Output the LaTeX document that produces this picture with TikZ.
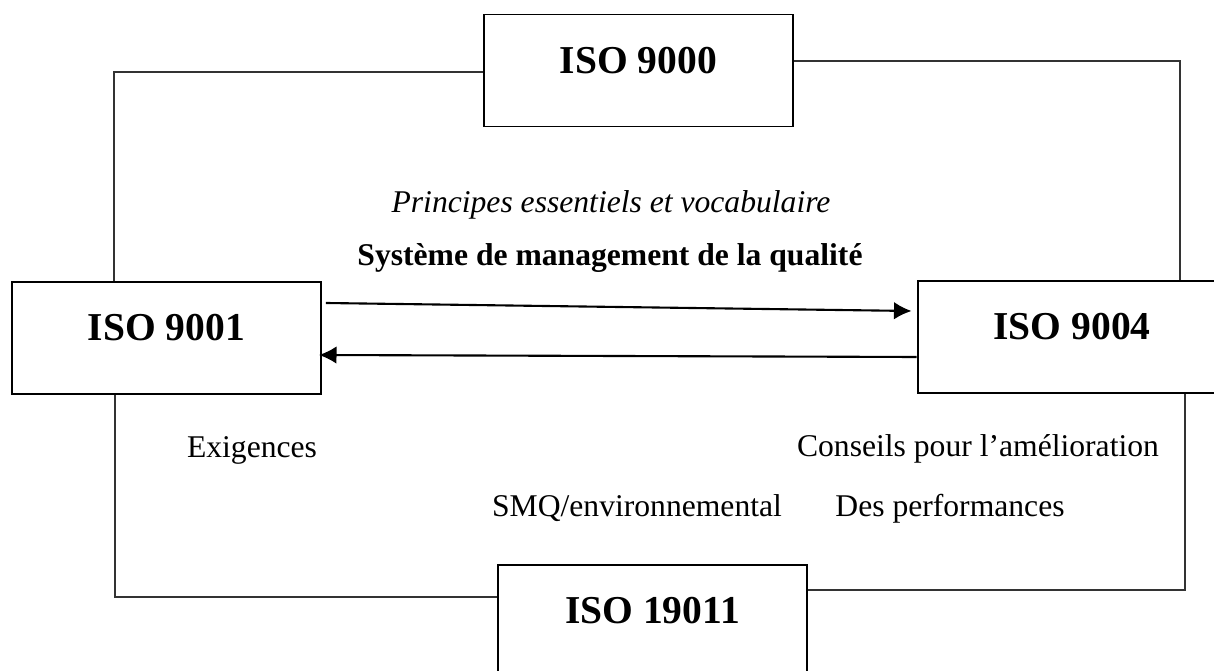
\documentclass[tikz,border=0pt]{standalone}
\usepackage{fontspec}
\setmainfont{Liberation Serif}
\usepackage{tikz}
\usetikzlibrary{calc}
\usetikzlibrary{arrows.meta}
\usetikzlibrary{positioning}
\tikzset{ISO/.style={draw=black,line width=1.1pt,minimum width=6.18cm,minimum height=2.24cm,inner sep=0pt,text height=12pt,text depth=9pt,font=\fontsize{22.5}{27}\selectfont\bfseries}}
\tikzset{link/.style={draw=black!80,line width=0.6pt}}
\tikzset{flow/.style={line width=1.2pt,-{Latex[length=10pt,width=10pt]}}}
\tikzset{note/.style={inner sep=0pt,font=\fontsize{18}{21}\selectfont}}

\begin{document}
\begin{tikzpicture}[x=0.02cm,y=-0.02cm]
\useasboundingbox (0,0) rectangle (1214,671);

\node[ISO] (iso9000) at (638.5, 70.5) {ISO 9000};
\node[ISO] (iso9001) at (166.5, 338) {ISO 9001};
\node[ISO] (iso9004) at (1072, 337) {ISO 9004};
\node[ISO] (iso19011) at (652.5, 621) {ISO 19011};

\coordinate (tl) at (114, 72);
\coordinate (tr) at (1180, 61);
\coordinate (bl) at (115, 597);
\coordinate (br) at (1185, 590);

\draw[link] (iso9000.west |- tl) -- (tl) -- (tl |- iso9001.north);
\draw[link] (iso9000.east |- tr) -- (tr) -- (tr |- iso9004.north);
\draw[link] (bl |- iso9001.south) -- (bl) -- (bl -| iso19011.west);
\draw[link] (br |- iso9004.south) -- (br) -- (br -| iso19011.east);

\draw[flow] ([shift={(4,-35)}]iso9001.east) -- ([shift={(-5,-26)}]iso9004.west);
\draw[flow] ([shift={(0,20)}]iso9004.west) -- ([shift={(-3,17)}]iso9001.east);

\node[note] (principes) at (611, 205) {\itshape Principes essentiels et vocabulaire};
\node[note] (systeme) at (610, 258) {\bfseries Système de management de la qualité};
\node[note] (exigences) at (252, 450) {Exigences};
\node[note] (conseils) at (978, 449) {Conseils pour l’amélioration};
\node[note,anchor=base] (smq) at (637, 517) {SMQ/environnemental};
\node[note,anchor=base] (perf) at (950, 517) {Des performances};

\end{tikzpicture}
\end{document}
